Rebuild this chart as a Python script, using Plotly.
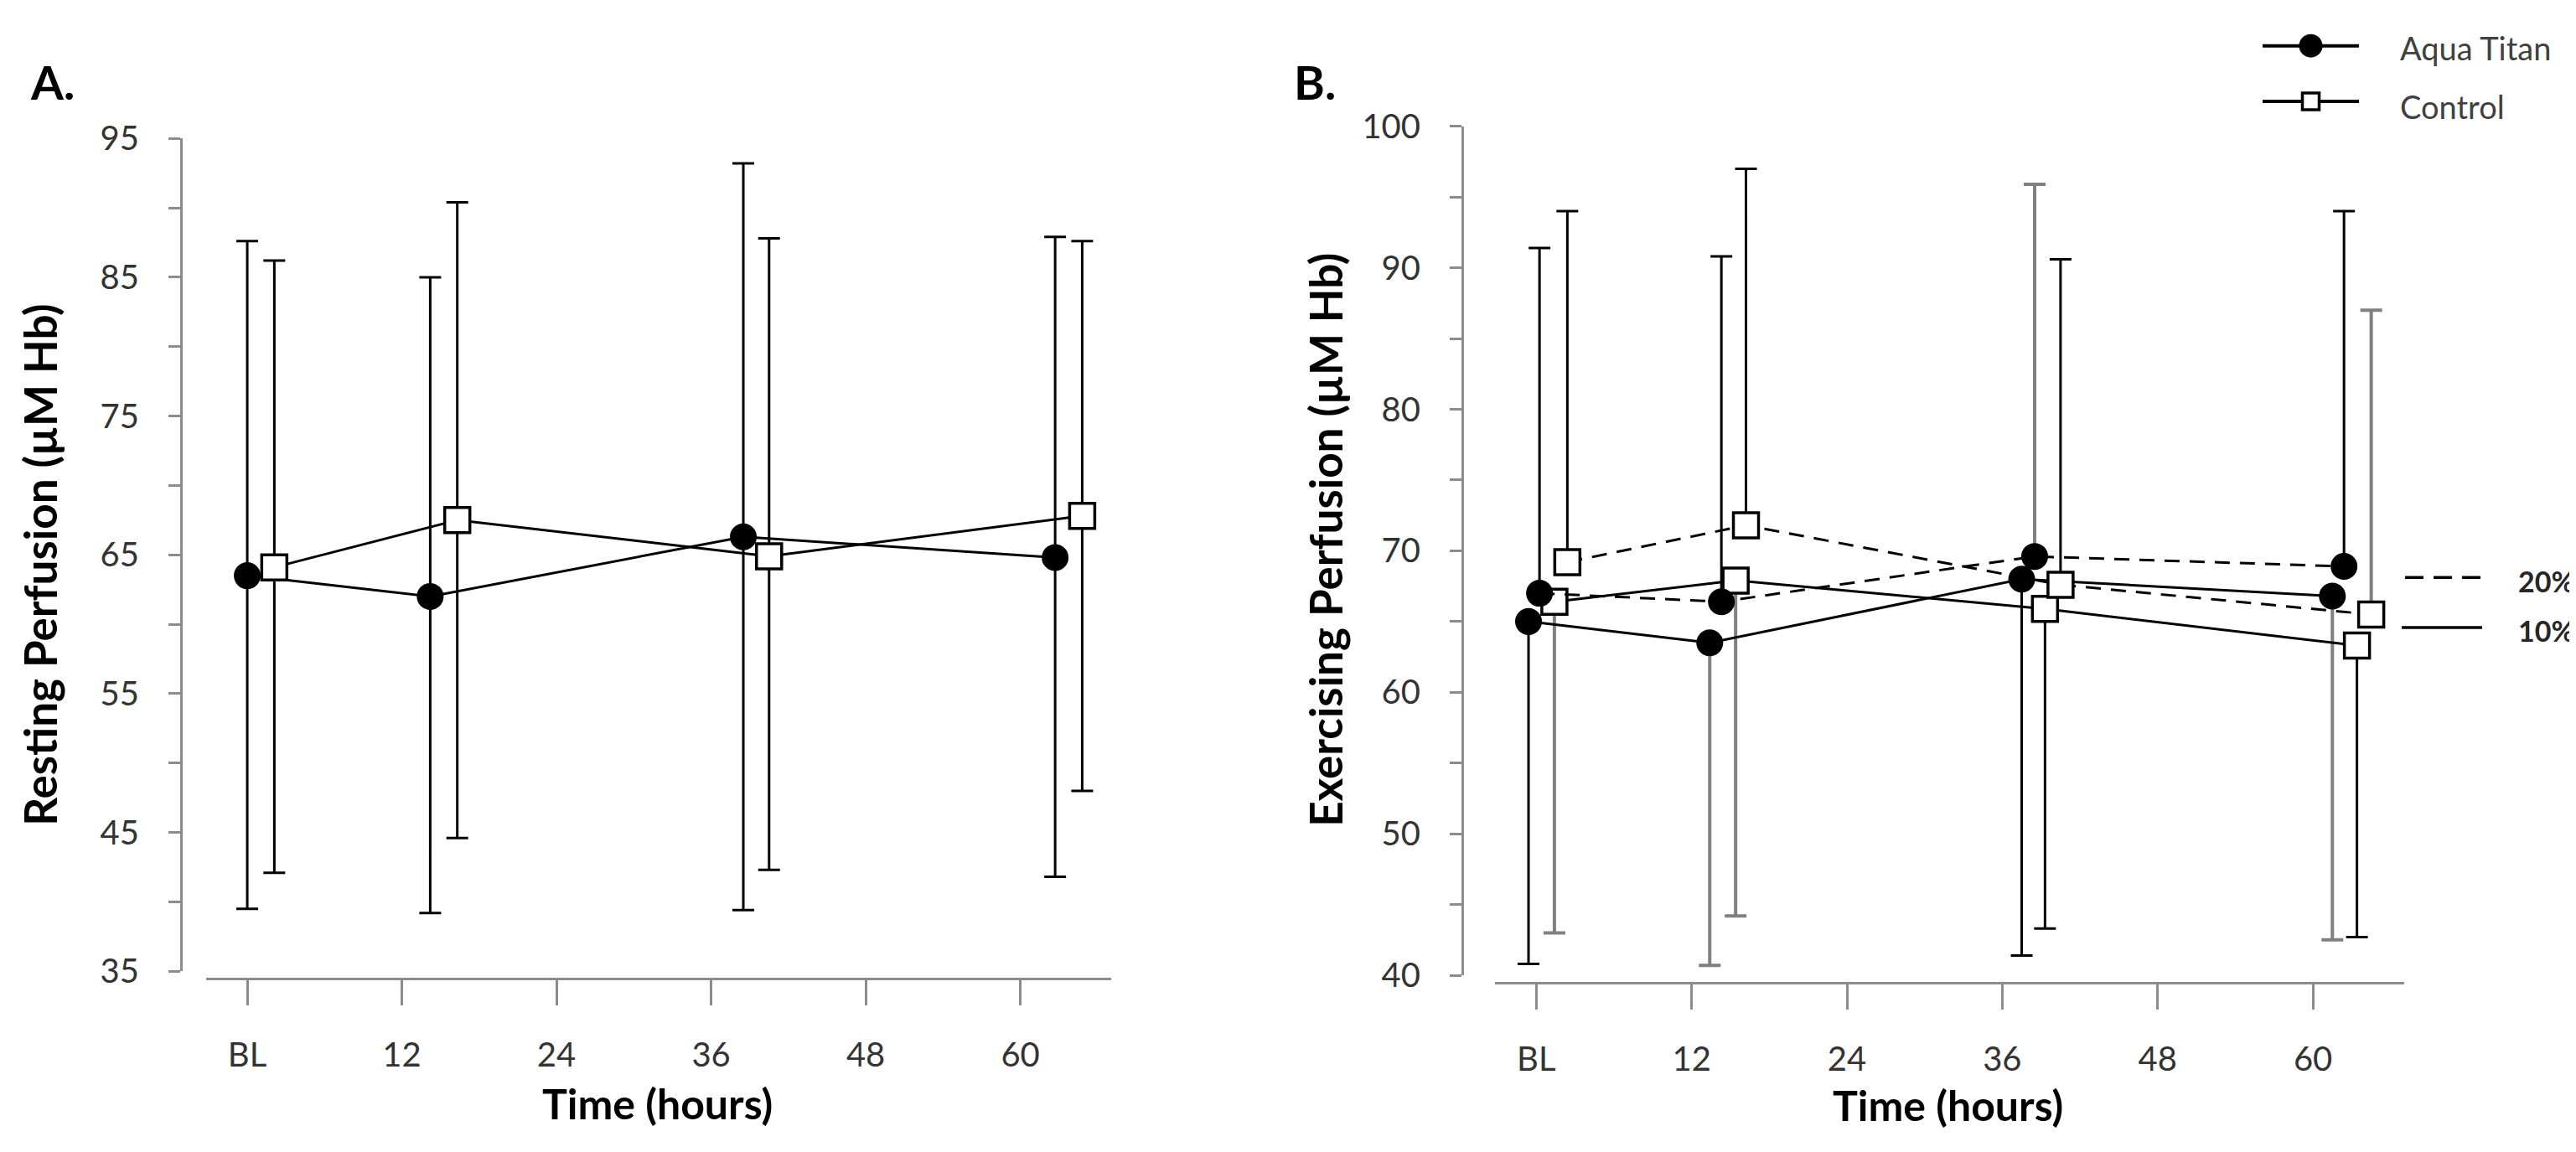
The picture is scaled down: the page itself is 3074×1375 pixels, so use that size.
import plotly.graph_objects as go

# ============================================================
# DATA
# ============================================================

tick_hours = [0, 12, 24, 36, 48, 60]
tick_labels = ["BL", "12", "24", "36", "48", "60"]

rest_ticks = [35, 40, 45, 50, 55, 60, 65, 70, 75, 80, 85, 90, 95]
rest_tick_text = ["35", "", "45", "", "55", "", "65", "", "75", "", "85", "", "95"]
ex_ticks = [40, 45, 50, 55, 60, 65, 70, 75, 80, 85, 90, 95, 100]
ex_tick_text = ["40", "", "50", "", "60", "", "70", "", "80", "", "90", "", "100"]

# Panel A - resting perfusion
a_aqua_t = [0, 14.2, 38.5, 62.7]
a_aqua_mean = [63.5, 62.0, 66.3, 64.8]
a_aqua_hi = [87.6, 85.0, 93.2, 87.9]
a_aqua_lo = [39.5, 39.2, 39.4, 41.8]

a_ctrl_t = [2.1, 16.3, 40.5, 64.8]
a_ctrl_mean = [64.1, 67.5, 64.9, 67.8]
a_ctrl_hi = [86.2, 90.4, 87.8, 87.6]
a_ctrl_lo = [42.1, 44.6, 42.3, 48.0]

# Panel B - exercising perfusion (20% dashed, 10% solid)
b_aqua20_t = [0.25, 14.3, 38.5, 62.4]
b_aqua20_mean = [67.0, 66.4, 69.6, 68.9]
b_aqua20_hi = [91.4, 90.8, 95.9, 94.0]

b_aqua10_t = [-0.6, 13.4, 37.5, 61.5]
b_aqua10_mean = [65.0, 63.5, 68.0, 66.8]
b_aqua10_lo = [40.8, 40.7, 41.4, 42.5]

b_ctrl20_t = [2.4, 16.2, 40.5, 64.5]
b_ctrl20_mean = [69.2, 71.8, 67.6, 65.5]
b_ctrl20_hi = [94.0, 97.0, 90.6, 87.0]

b_ctrl10_t = [1.4, 15.4, 39.3, 63.4]
b_ctrl10_mean = [66.4, 67.9, 65.9, 63.3]
b_ctrl10_lo = [43.0, 44.2, 43.3, 42.7]

BLACK = "#000000"
GREY = "#808080"
b_aqua20_err_col = [BLACK, BLACK, GREY, BLACK]
b_aqua10_err_col = [BLACK, GREY, BLACK, GREY]
b_ctrl20_err_col = [BLACK, BLACK, BLACK, GREY]
b_ctrl10_err_col = [GREY, GREY, BLACK, BLACK]

# ============================================================
# STYLE
# ============================================================

W, H = 3074, 1375
PAGE_MARGIN = 8  # default body margin of the html page
FONT = "Lato"
AXIS_COL = "#8c8c8c"
TICK_FONT = dict(family=FONT, size=40, color="#333333")
YTITLE_FONT = dict(family=FONT, size=53, color="black")
XTITLE_FONT = dict(family=FONT, size=50, color="black")
ERR_THICK = {BLACK: 3, GREY: 4}


# screen pixel -> paper fraction
def px(x):
    return (x - PAGE_MARGIN) / W


def py(y):
    return 1 - (y - PAGE_MARGIN) / H


fig = go.Figure()


def add_errors(t, mean, upper, lower, colours, xa, ya):
    # error bars drawn first so the markers sit on top of them
    for colour in dict.fromkeys(colours):
        idx = [i for i, c in enumerate(colours) if c == colour]
        plus = [(upper[i] - mean[i]) if upper else 0 for i in idx]
        minus = [(mean[i] - lower[i]) if lower else 0 for i in idx]
        fig.add_trace(
            go.Scatter(
                x=[t[i] for i in idx],
                y=[mean[i] for i in idx],
                mode="markers",
                marker=dict(size=1, opacity=0),
                error_y=dict(
                    type="data",
                    symmetric=False,
                    array=plus,
                    arrayminus=minus,
                    color=colour,
                    thickness=ERR_THICK[colour],
                    width=13,
                ),
                xaxis=xa,
                yaxis=ya,
                showlegend=False,
                hoverinfo="skip",
            )
        )


def add_series(t, mean, symbol, dash, xa, ya, name):
    filled = symbol == "circle"
    fig.add_trace(
        go.Scatter(
            x=t,
            y=mean,
            name=name,
            mode="lines+markers",
            line=dict(color="black", width=3, dash=dash),
            marker=dict(
                symbol=symbol,
                size=32 if filled else 30,
                color="black" if filled else "white",
                line=dict(color="black", width=0 if filled else 3.5),
            ),
            xaxis=xa,
            yaxis=ya,
            showlegend=False,
            cliponaxis=False,
        )
    )


# Panel A
add_errors(a_aqua_t, a_aqua_mean, a_aqua_hi, a_aqua_lo, [BLACK] * 4, "x", "y")
add_errors(a_ctrl_t, a_ctrl_mean, a_ctrl_hi, a_ctrl_lo, [BLACK] * 4, "x", "y")
add_series(a_aqua_t, a_aqua_mean, "circle", "solid", "x", "y", "Aqua Titan")
add_series(a_ctrl_t, a_ctrl_mean, "square", "solid", "x", "y", "Control")

# Panel B
add_errors(b_aqua10_t, b_aqua10_mean, None, b_aqua10_lo, b_aqua10_err_col, "x2", "y2")
add_errors(b_ctrl10_t, b_ctrl10_mean, None, b_ctrl10_lo, b_ctrl10_err_col, "x2", "y2")
add_errors(b_aqua20_t, b_aqua20_mean, b_aqua20_hi, None, b_aqua20_err_col, "x2", "y2")
add_errors(b_ctrl20_t, b_ctrl20_mean, b_ctrl20_hi, None, b_ctrl20_err_col, "x2", "y2")
DASH = "18px,12px"
add_series(b_aqua10_t, b_aqua10_mean, "circle", "solid", "x2", "y2", "Aqua Titan 10%")
add_series(b_ctrl10_t, b_ctrl10_mean, "square", "solid", "x2", "y2", "Control 10%")
add_series(b_aqua20_t, b_aqua20_mean, "circle", DASH, "x2", "y2", "Aqua Titan 20%")
add_series(b_ctrl20_t, b_ctrl20_mean, "square", DASH, "x2", "y2", "Control 20%")

# Legend samples (group key) on a hidden axis pair
legend_groups = ["Aqua Titan", "Control"]
legend_symbols = ["circle", "square"]
legend_levels = [0.77, 0.25]
for name, sym, lvl in zip(legend_groups, legend_symbols, legend_levels):
    fig.add_trace(
        go.Scatter(
            x=[0, 1], y=[lvl, lvl], mode="lines",
            line=dict(color="black", width=4),
            xaxis="x3", yaxis="y3", showlegend=False, hoverinfo="skip",
            cliponaxis=False,
        )
    )
    fig.add_trace(
        go.Scatter(
            x=[0.5], y=[lvl], mode="markers",
            marker=dict(
                symbol=sym,
                size=28 if sym == "circle" else 20,
                color="black" if sym == "circle" else "white",
                line=dict(color="black", width=0 if sym == "circle" else 3.5),
            ),
            xaxis="x3", yaxis="y3", showlegend=False, hoverinfo="skip",
            cliponaxis=False,
        )
    )


def x_axis(domain, pos):
    return dict(
        domain=domain,
        range=[-3.19, 67.05],
        anchor="free",
        position=pos,
        tickmode="array",
        tickvals=tick_hours,
        ticktext=tick_labels,
        ticks="outside",
        ticklen=30,
        tickwidth=3,
        tickcolor=AXIS_COL,
        showline=True,
        linecolor=AXIS_COL,
        linewidth=3,
        showgrid=False,
        zeroline=False,
        tickfont=TICK_FONT,
        ticklabelstandoff=25,
        fixedrange=True,
    )


def y_axis(domain, rng, pos, vals, text):
    return dict(
        domain=domain,
        range=rng,
        anchor="free",
        position=pos,
        tickmode="array",
        tickvals=vals,
        ticktext=text,
        ticks="outside",
        ticklen=14,
        tickwidth=3,
        tickcolor=AXIS_COL,
        showline=True,
        linecolor=AXIS_COL,
        linewidth=3,
        showgrid=False,
        zeroline=False,
        tickfont=TICK_FONT,
        ticklabelstandoff=27,
        fixedrange=True,
    )


annotations = [
    dict(text="<b>A.</b>", x=px(34), y=py(75), xanchor="left", yanchor="middle",
         font=dict(family=FONT, size=56, color="black")),
    dict(text="<b>B.</b>", x=px(1542), y=py(75), xanchor="left", yanchor="middle",
         font=dict(family=FONT, size=56, color="black")),
    dict(text="<b>Resting Perfusion (µM Hb)</b>", x=px(48), y=py(673), textangle=-90,
         xanchor="center", yanchor="middle", font=YTITLE_FONT),
    dict(text="<b>Exercising Perfusion (µM Hb)</b>", x=px(1582), y=py(642), textangle=-90,
         xanchor="center", yanchor="middle", font=YTITLE_FONT),
    dict(text="<b>Time (hours)</b>", x=px(784), y=py(1338), xanchor="center",
         yanchor="middle", font=XTITLE_FONT),
    dict(text="<b>Time (hours)</b>", x=px(2324), y=py(1340), xanchor="center",
         yanchor="middle", font=XTITLE_FONT),
    dict(text="Aqua Titan", x=px(2862), y=py(33), xanchor="left", yanchor="middle",
         font=dict(family=FONT, size=38, color="#404040")),
    dict(text="Control", x=px(2862), y=py(105), xanchor="left", yanchor="middle",
         font=dict(family=FONT, size=38, color="#404040")),
    dict(text="<b>20%</b>", x=px(3074), y=py(692), xanchor="right", yanchor="middle",
         font=dict(family=FONT, size=34, color="#262626")),
    dict(text="<b>10%</b>", x=px(3074), y=py(754), xanchor="right", yanchor="middle",
         font=dict(family=FONT, size=34, color="#262626")),
]
for a in annotations:
    a.update(xref="paper", yref="paper", showarrow=False)

shapes = [
    dict(type="line", xref="paper", yref="paper", x0=px(2870), x1=px(2966),
         y0=py(688), y1=py(688), line=dict(color="black", width=3.5, dash="22px,12px")),
    dict(type="line", xref="paper", yref="paper", x0=px(2866), x1=px(2962),
         y0=py(750), y1=py(750), line=dict(color="black", width=3.5)),
]

fig.update_layout(
    width=W,
    height=H,
    margin=dict(l=0, r=0, t=0, b=0),
    paper_bgcolor="white",
    plot_bgcolor="white",
    showlegend=False,
    xaxis=x_axis([px(246), px(1326)], py(1184)),
    yaxis=y_axis([py(1175), py(145)], [35, 95], px(216), rest_ticks, rest_tick_text),
    xaxis2=x_axis([px(1784), px(2869)], py(1189)),
    yaxis2=y_axis([py(1180), py(130)], [40, 100], px(1745), ex_ticks, ex_tick_text),
    xaxis3=dict(domain=[px(2700), px(2815)], range=[0, 1], visible=False, anchor="y3",
                fixedrange=True),
    yaxis3=dict(domain=[py(140), py(8)], range=[-0.06, 0.94], visible=False, anchor="x3",
                fixedrange=True),
    annotations=annotations,
    shapes=shapes,
)

fig.write_html("out.html")
